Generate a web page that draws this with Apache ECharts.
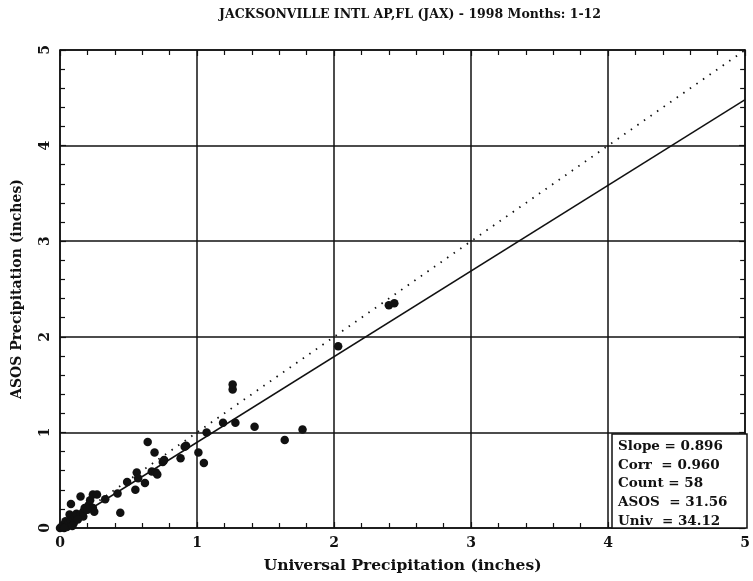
<!DOCTYPE html>
<html>
<head>
<meta charset="utf-8">
<script src="https://cdn.jsdelivr.net/npm/echarts@6/dist/echarts.min.js"></script>
<style>
  html, body { margin: 0; padding: 0; background: #fff; }
  #chart { width: 753px; height: 581px; }
</style>
</head>
<body>
<div id="chart"></div>
<script>
// Daily precipitation pairs: Universal gauge (x) vs ASOS (y), inches
const univValues = [
  0.00, 0.01, 0.02, 0.04, 0.05, 0.06, 0.07, 0.08, 0.08, 0.11,
  0.12, 0.15, 0.15, 0.17, 0.17, 0.18, 0.21, 0.22, 0.24, 0.24,
  0.25, 0.27, 0.33, 0.42, 0.44, 0.49, 0.55, 0.56, 0.57, 0.62,
  0.64, 0.67, 0.69, 0.70, 0.71, 0.75, 0.76, 0.88, 0.91, 0.92,
  1.01, 1.05, 1.07, 1.19, 1.26, 1.26, 1.28, 1.42, 1.64, 1.77,
  2.03, 2.40, 2.44, 0.03, 0.10, 0.13, 0.20, 0.09
];
const asosValues = [
  0.00, 0.01, 0.03, 0.07, 0.01, 0.05, 0.14, 0.08, 0.25, 0.12,
  0.15, 0.14, 0.33, 0.17, 0.12, 0.21, 0.24, 0.29, 0.35, 0.21,
  0.17, 0.35, 0.30, 0.36, 0.16, 0.48, 0.40, 0.58, 0.52, 0.47,
  0.90, 0.59, 0.79, 0.58, 0.56, 0.69, 0.71, 0.73, 0.85, 0.86,
  0.79, 0.68, 1.00, 1.10, 1.45, 1.50, 1.10, 1.06, 0.92, 1.03,
  1.90, 2.33, 2.35, 0.00, 0.05, 0.09, 0.19, 0.02
];

// Summary statistics shown in the box
const slope = 0.896;
const corr = 0.960;
const count = 58;
const asosTotal = 31.56;
const univTotal = 34.12;

const axisTicks = [0, 1, 2, 3, 4, 5];

const FONT = "'DejaVu Serif', 'Liberation Serif', serif";
const axisMin = axisTicks[0];
const axisMax = axisTicks[axisTicks.length - 1];

const points = univValues.map((u, i) => [u, asosValues[i]]);
const fitLine = [[axisMin, slope * axisMin], [axisMax, slope * axisMax]];
const oneToOne = [[axisMin, axisMin], [axisMax, axisMax]];

const chart = echarts.init(document.getElementById('chart'));

function frameAxis(position, showLabels, name, nameGap, rotate, nameSize) {
  return {
    type: 'value',
    position: position,
    min: axisMin,
    max: axisMax,
    interval: 1,
    name: name,
    nameLocation: 'middle',
    nameGap: nameGap,
    nameTextStyle: { fontFamily: FONT, fontWeight: 'bold', fontSize: nameSize, color: '#111' },
    axisLine: { show: true, onZero: false, lineStyle: { color: '#111', width: 1.5 } },
    axisTick: { show: true, inside: true, length: 6, lineStyle: { color: '#111', width: 1.2 } },
    minorTick: { show: true, splitNumber: 5, length: 5, lineStyle: { color: '#111', width: 1.2 } },
    axisLabel: showLabels ? {
      show: true, fontFamily: FONT, fontWeight: 'bold', fontSize: 14, color: '#111',
      rotate: rotate, margin: 8
    } : { show: false },
    splitLine: { show: showLabels, lineStyle: { color: '#111', width: 1.5 } },
    minorSplitLine: { show: false }
  };
}

const statLines = [
  'Slope = ' + slope.toFixed(3),
  'Corr  = ' + corr.toFixed(3),
  'Count = ' + count,
  'ASOS  = ' + asosTotal.toFixed(2),
  'Univ  = ' + univTotal.toFixed(2)
];

chart.setOption({
  backgroundColor: '#ffffff',
  animation: false,
  grid: { left: 60, right: 6, top: 50, bottom: 53, containLabel: false },
  xAxis: [
    frameAxis('bottom', true, 'Universal Precipitation (inches)', 30, 0, 15.5),
    frameAxis('top', false, '', 0, 0, 12)
  ],
  yAxis: [
    frameAxis('left', true, 'ASOS Precipitation (inches)', 36, 90, 14),
    frameAxis('right', false, '', 0, 0, 12)
  ],
  graphic: [
    {
      type: 'text',
      x: 410,
      y: 8,
      style: {
        text: 'JACKSONVILLE INTL AP,FL (JAX) - 1998 Months: 1-12',
        font: 'bold 12.5px ' + FONT,
        fill: '#111',
        align: 'center'
      }
    },
    {
      type: 'rect',
      shape: { x: 612, y: 434, width: 135, height: 94 },
      style: { fill: '#fff', stroke: '#111', lineWidth: 1.5 },
      z: 10
    },
    {
      type: 'text',
      left: 618,
      top: 437,
      z: 11,
      style: {
        text: statLines.join('\n'),
        font: 'bold 13.5px ' + FONT,
        lineHeight: 18.7,
        fill: '#111'
      }
    }
  ],
  series: [
    {
      type: 'line',
      data: oneToOne,
      symbol: 'none',
      lineStyle: { color: '#111', width: 1.8, type: [1.5, 6.5] },
      z: 3
    },
    {
      type: 'line',
      data: fitLine,
      symbol: 'none',
      lineStyle: { color: '#111', width: 1.5 },
      z: 3
    },
    {
      type: 'scatter',
      data: points,
      symbol: 'circle',
      symbolSize: 8.5,
      itemStyle: { color: '#111', opacity: 1 },
      z: 4
    }
  ]
});
</script>
</body>
</html>
